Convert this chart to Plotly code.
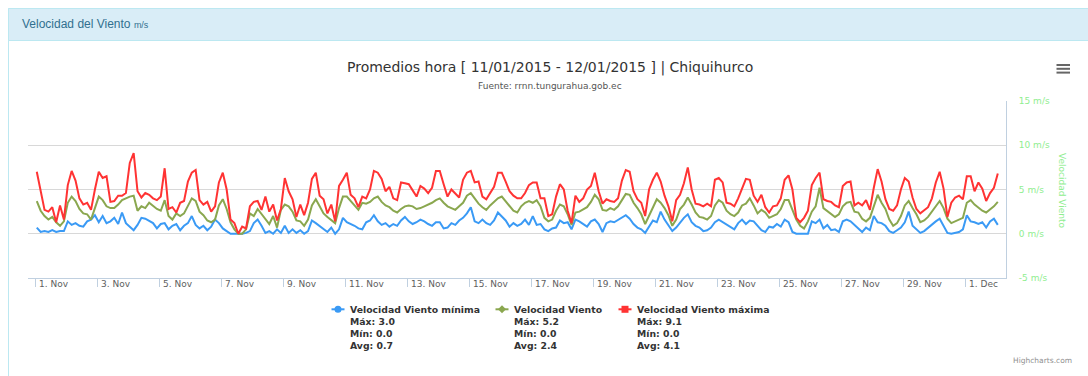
import pandas as pd
import plotly.graph_objects as go

W, H = 1088, 376

# 3-hourly wind speed (m/s), Chiquihurco station, 1 Nov - 1 Dec 2015
vel_min = [
    0.7, 0.2, 0.3, 0.2, 0.4, 0.2, 0.3, 0.3, 1.4, 1.0,
    1.2, 0.9, 0.8, 1.4, 1.6, 2.1, 1.3, 2.0, 1.2, 1.4,
    1.8, 1.1, 2.4, 1.2, 0.8, 0.4, 1.0, 1.8, 1.7, 1.4,
    1.2, 0.6, 1.1, 1.2, 0.5, 0.9, 1.1, 0.4, 0.9, 1.2,
    2.0, 1.0, 0.6, 0.9, 0.4, 0.8, 1.6, 1.2, 0.6, 0.3,
    0.0, 0.0, 0.0, 0.0, 0.1, 0.3, 1.2, 1.6, 0.9, 0.1,
    0.3, 0.0, 0.5,
    0.1, 0.9, 0.1, 0.5, 0.1, 0.4, 0.0, 0.3, 1.5, 1.2,
    0.9, 0.5, 0.2, 0.7, 0.0, 0.5, 1.8, 1.3, 1.1, 0.9,
    0.6, 0.5, 1.3, 1.5, 2.1, 1.4, 1.0, 1.2, 0.8, 1.1,
    0.9, 1.5, 1.9, 1.4, 1.1, 1.3, 1.6, 1.4, 1.1, 0.9,
    1.3, 1.3, 0.6, 0.7, 1.2, 1.0, 1.5, 1.8, 2.3, 3.0,
    1.4, 1.2, 1.6, 1.2, 1.0, 1.5, 2.4, 1.9, 1.5, 0.8,
    1.2, 0.9,
    1.1, 1.6, 1.0, 2.0, 1.0, 1.1, 0.5, 0.3, 0.6, 0.7,
    1.5, 1.2, 1.3, 0.5, 1.6, 1.4, 1.1, 0.8, 1.4, 1.6,
    1.1, 0.2, 1.2, 1.4, 1.3, 1.6, 1.8, 2.1, 1.7, 1.1,
    0.7, 0.5, 0.1, 0.8, 1.5, 1.3, 2.5, 1.6, 1.0, 0.3,
    0.7, 1.3, 1.8, 2.2, 1.3, 0.9, 0.7, 0.3, 0.4, 0.7,
    1.3, 1.6, 1.3, 1.0, 0.7, 0.5, 1.2, 1.6, 1.1, 1.5,
    1.4, 0.9,
    0.4, 0.2, 0.8, 0.7, 1.1, 0.8, 1.6, 1.3, 0.2, 0.0,
    0.0, 0.0, 0.0, 1.4, 1.2, 1.6, 0.6, 1.0, 0.4, 0.5,
    0.2, 1.4, 1.6, 1.4, 1.0, 0.5, 0.2, 0.7, 0.4, 2.0,
    1.3, 1.2, 0.9, 0.3, 0.1, 0.4, 0.7, 1.3, 2.5, 0.9,
    0.5, 0.1, 0.3, 0.7, 1.0, 1.4, 1.7, 0.9, 0.1, 0.0,
    0.1, 0.2, 0.5, 2.1, 1.4, 1.3, 1.1, 1.3, 0.7, 1.4,
    1.7, 1.0,
]

vel_media = [
    3.7, 2.6, 2.0, 1.6, 1.9, 1.3, 0.9, 1.4, 3.5, 4.2,
    3.7, 2.8, 2.3, 2.2, 1.6, 3.0, 4.2, 3.8, 3.1, 2.9,
    2.9, 3.3, 3.8, 4.0, 4.2, 4.3, 2.6, 3.1, 2.9, 3.5,
    3.1, 2.8, 2.6, 3.8, 2.0, 1.6, 2.3, 2.0, 2.3, 3.1,
    4.0, 3.7, 2.5, 2.1, 1.5, 1.3, 1.6, 3.2, 3.9, 2.8,
    1.3, 0.5, 0.0, 0.0, 0.5, 2.3, 2.0, 2.8, 2.2, 1.6,
    1.1, 2.0, 0.7,
    2.7, 3.3, 3.1, 2.5, 1.5, 1.4, 0.9, 1.6, 3.2, 3.9,
    3.1, 2.3, 1.9, 1.6, 1.2, 2.9, 4.2, 4.2, 3.7, 3.3,
    2.7, 3.5, 3.4, 3.6, 4.0, 4.2, 3.6, 3.2, 3.0, 2.6,
    2.4, 2.8, 3.1, 3.2, 3.1, 2.8, 2.9, 3.1, 3.3, 3.5,
    3.8, 4.0, 3.5, 3.1, 2.9, 2.7, 3.1, 3.5, 4.3, 4.6,
    4.0, 3.4, 3.0, 2.7, 3.2, 3.6, 4.0, 4.2, 3.7, 3.1,
    2.6, 2.4,
    3.1, 3.5, 3.7, 3.5, 3.8, 3.1, 1.8, 1.4, 1.6, 2.6,
    3.3, 3.1, 2.2, 1.0, 2.4, 2.5, 2.8, 3.0, 3.6, 4.4,
    3.9, 2.7, 2.6, 2.9, 2.7, 3.1, 3.8, 4.5, 4.4, 3.5,
    2.9, 2.2, 1.1, 2.0, 3.0, 3.9, 3.5, 2.9, 2.1, 0.9,
    1.6, 2.8, 3.3, 4.1, 3.3, 2.4, 1.9, 1.8, 1.6, 2.0,
    3.2, 3.8, 3.5, 2.6, 2.2, 2.0, 2.4, 3.2, 3.4, 4.0,
    3.2, 2.3,
    2.7, 2.4, 1.8, 2.0, 2.2, 2.8, 3.8, 3.8, 2.8, 1.6,
    0.9, 0.6, 1.4, 2.5, 3.1, 5.2, 2.9, 2.6, 2.2, 1.9,
    2.2, 3.1, 3.5, 3.6, 2.5, 2.4, 1.7, 1.4, 1.8, 3.0,
    4.4, 3.5, 2.8, 1.6, 0.9, 1.2, 2.0, 3.2, 3.7, 2.9,
    2.2, 1.3, 1.5, 1.9, 2.5, 3.1, 3.7, 2.9, 1.7, 1.2,
    1.4, 1.6, 1.8, 3.5, 3.8, 3.3, 2.9, 2.6, 2.4, 2.7,
    3.1, 3.6,
]

vel_max = [
    7.0, 4.8, 2.7, 2.5, 3.0, 1.3, 3.2, 1.6, 5.5, 7.1,
    6.0, 4.0, 3.3, 3.5, 2.7, 5.0, 7.0, 6.3, 6.5, 3.6,
    3.7, 4.3, 4.3, 4.6, 8.0, 9.1, 4.8, 4.1, 4.6, 4.4,
    4.0, 3.8, 4.2, 7.4, 2.8, 3.0, 2.4, 3.5, 3.7, 5.9,
    6.9, 7.2, 3.8, 3.3, 3.6, 2.5, 3.1, 5.8, 6.9, 5.0,
    1.6, 1.2, 0.0, 0.8, 0.6, 3.1, 3.6, 3.7, 2.7, 4.2,
    2.5, 3.3, 1.5,
    2.8, 6.3, 4.8, 3.9, 1.9, 3.3, 2.1, 3.5, 6.2, 6.9,
    4.3, 3.9, 2.3, 3.3, 1.4, 5.4, 6.1, 6.9, 4.4, 4.0,
    3.0, 4.2, 4.0, 5.0, 7.1, 6.9, 6.2, 4.8, 5.3, 4.0,
    3.8, 5.8, 5.7, 5.6, 4.9, 4.2, 5.4, 5.1, 4.6, 5.2,
    7.1, 7.1, 5.6, 4.2, 5.0, 4.6, 4.1, 6.1, 6.9, 7.1,
    5.8, 5.9, 4.2, 3.9, 4.6, 5.3, 6.9, 6.9, 5.9, 4.8,
    4.3, 4.0,
    4.0, 4.6, 5.5, 5.8, 5.8, 4.0, 4.0, 2.0, 2.2, 4.2,
    5.6, 5.0, 2.6, 1.2, 4.3, 3.6, 4.0, 5.0, 5.4, 6.9,
    4.8, 3.4, 3.9, 3.7, 3.6, 4.0, 6.0, 7.2, 7.0, 4.8,
    3.9, 3.5, 2.0, 5.0, 6.1, 6.9, 5.9, 4.3, 3.1, 1.4,
    3.8, 4.4, 5.7, 7.5, 5.0, 3.4, 3.3, 3.1, 3.4, 3.1,
    6.1, 6.3, 5.8, 3.5, 3.4, 3.1, 4.0, 5.0, 6.2, 6.1,
    4.3, 3.6,
    4.4, 3.0, 2.4, 3.1, 3.2, 4.0, 6.1, 6.6, 5.0, 1.8,
    1.3, 1.8, 2.6, 5.5, 6.3, 6.9, 3.9, 3.7, 3.6, 3.2,
    3.0, 5.4, 5.8, 5.9, 3.2, 3.5, 3.2, 3.8, 2.7, 5.2,
    7.3, 5.9, 3.9, 2.8, 2.6, 3.2, 5.0, 6.3, 5.9, 4.1,
    2.8, 2.3, 2.6, 3.0, 4.0, 5.8, 7.0, 5.1, 1.9, 3.5,
    4.1, 4.3, 3.9, 6.5, 6.5, 4.8, 5.8, 5.1, 3.7, 4.6,
    5.2, 6.8,
]

series_names = ["Velocidad Viento mínima", "Velocidad Viento", "Velocidad Viento máxima"]
series_colors = ["#3a9af5", "#8aa74f", "#ff3333"]
series_symbols = ["circle", "diamond", "square"]
stats_max = [3.0, 5.2, 9.1]
stats_min = [0.0, 0.0, 0.0]
stats_avg = [0.7, 2.4, 4.1]

x_tick_labels = ["1. Nov", "3. Nov", "5. Nov", "7. Nov", "9. Nov", "11. Nov",
                 "13. Nov", "15. Nov", "17. Nov", "19. Nov", "21. Nov", "23. Nov",
                 "25. Nov", "27. Nov", "29. Nov", "1. Dec"]
x_tick_dates = pd.date_range("2015-11-01", periods=len(x_tick_labels), freq="2D")
y_tick_values = [-5, 0, 5, 10, 15]
y_tick_labels = ["-5 m/s", "0 m/s", "5 m/s", "10 m/s", "15 m/s"]

times = pd.date_range("2015-11-01 01:00", periods=len(vel_max), freq="3h")


def px(x):
    return x / W


def py(y):
    return 1 - y / H


fig = go.Figure()
for name, vals, color in zip(series_names, [vel_min, vel_media, vel_max], series_colors):
    fig.add_trace(go.Scatter(
        x=times, y=vals, mode="lines", name=name,
        line=dict(color=color, width=2), showlegend=False,
    ))

shapes = []
annotations = []

# panel with header band
shapes.append(dict(type="rect", xref="paper", yref="paper", layer="below",
                   x0=px(8.5), x1=px(1100), y0=py(8.5), y1=py(420),
                   line=dict(color="#bce8f1", width=1), fillcolor="white"))
shapes.append(dict(type="rect", xref="paper", yref="paper", layer="below",
                   x0=px(8.5), x1=px(1100), y0=py(8.5), y1=py(40.5),
                   line=dict(color="#bce8f1", width=1), fillcolor="#d9edf7"))
annotations.append(dict(
    x=px(20), y=py(24.5), xref="paper", yref="paper", xanchor="left", yanchor="middle",
    text="Velocidad del Viento <span style='font-size:9px'>m/s</span>",
    showarrow=False, font=dict(family="Liberation Sans, Arial", size=12, color="#31708f")))

# export menu icon
for yy in (65, 68.8, 72.6):
    shapes.append(dict(type="line", xref="paper", yref="paper",
                       x0=px(1056.5), x1=px(1070), y0=py(yy), y1=py(yy),
                       line=dict(color="#666666", width=2)))

# titles
annotations.append(dict(
    x=px(550), y=py(67), xref="paper", yref="paper", xanchor="center", yanchor="middle",
    text="Promedios hora [ 11/01/2015 - 12/01/2015 ] | Chiquihurco", showarrow=False,
    font=dict(family="DejaVu Sans", size=14, color="#333333")))
annotations.append(dict(
    x=px(550), y=py(85.5), xref="paper", yref="paper", xanchor="center", yanchor="middle",
    text="Fuente: rrnn.tungurahua.gob.ec", showarrow=False,
    font=dict(family="DejaVu Sans", size=9, color="#555555")))

# x-axis ticks and labels
for d, lab in zip(x_tick_dates, x_tick_labels):
    shapes.append(dict(type="line", xref="x", yref="paper", x0=d, x1=d,
                       y0=py(278), y1=py(287), line=dict(color="#C0D0E0", width=1)))
    annotations.append(dict(
        x=d, y=py(283.5), xref="x", yref="paper", xanchor="left", yanchor="middle",
        xshift=1.5, text=lab, showarrow=False,
        font=dict(family="DejaVu Sans", size=9, color="#606060")))

# y-axis title
annotations.append(dict(
    x=px(1062), y=py(190), xref="paper", yref="paper", xanchor="center", yanchor="middle",
    text="Velocidad Viento", textangle=90, showarrow=False,
    font=dict(family="DejaVu Sans", size=9, color="#90EE90")))

# legend with series statistics
legend_x = [331.5, 495.5, 618.5]
for lx, name, color, sym, mx, mn, av in zip(legend_x, series_names, series_colors,
                                            series_symbols, stats_max, stats_min, stats_avg):
    ly = 309.3
    cx = lx + 6.5
    shapes.append(dict(type="line", xref="paper", yref="paper",
                       x0=px(lx), x1=px(lx + 13), y0=py(ly), y1=py(ly),
                       line=dict(color=color, width=2)))
    if sym == "circle":
        shapes.append(dict(type="circle", xref="paper", yref="paper",
                           x0=px(cx - 3.5), x1=px(cx + 3.5), y0=py(ly - 3.5), y1=py(ly + 3.5),
                           line=dict(width=0), fillcolor=color))
    elif sym == "square":
        shapes.append(dict(type="rect", xref="paper", yref="paper",
                           x0=px(cx - 3.5), x1=px(cx + 3.5), y0=py(ly - 3.5), y1=py(ly + 3.5),
                           line=dict(width=0), fillcolor=color))
    else:
        path = "M {a},{b} L {c},{d} L {a},{e} L {f},{d} Z".format(
            a=px(cx), b=py(ly - 4), c=px(cx + 4), d=py(ly), e=py(ly + 4), f=px(cx - 4))
        shapes.append(dict(type="path", xref="paper", yref="paper", path=path,
                           line=dict(width=0), fillcolor=color))
    tx = lx + 16
    rows = [name, f"Máx: {mx:.1f}", f"Mín: {mn:.1f}", f"Avg: {av:.1f}"]
    for i, row in enumerate(rows):
        annotations.append(dict(
            x=px(tx), y=py(ly + 12 * i), xref="paper", yref="paper",
            xanchor="left", yanchor="middle", text=f"<b>{row}</b>", showarrow=False,
            font=dict(family="DejaVu Sans", size=9.3, color="#333333")))

# credits
annotations.append(dict(
    x=px(1074), y=py(360), xref="paper", yref="paper", xanchor="right", yanchor="middle",
    text="Highcharts.com", showarrow=False,
    font=dict(family="DejaVu Sans", size=7.5, color="#909090")))

fig.update_layout(
    width=W, height=H,
    margin=dict(l=0, r=0, t=0, b=0),
    paper_bgcolor="white",
    plot_bgcolor="rgba(0,0,0,0)",
    showlegend=False,
    hovermode=False,
    xaxis=dict(
        domain=[px(28), px(1006)],
        range=["2015-10-31 18:12", "2015-12-02 07:21"],
        showgrid=False, zeroline=False, showticklabels=False, ticks="",
        showline=True, linecolor="#C0D0E0", linewidth=1, automargin=False,
    ),
    yaxis=dict(
        domain=[py(278), py(101)],
        range=[-5, 15], side="right",
        tickmode="array", tickvals=y_tick_values, ticktext=y_tick_labels,
        showgrid=True, gridcolor="#D8D8D8", gridwidth=1, zeroline=False,
        showline=True, linecolor="#C0D0E0", linewidth=1, ticks="",
        tickfont=dict(family="DejaVu Sans", size=9, color="#90EE90"),
        ticklabelstandoff=10, automargin=False,
    ),
    shapes=shapes,
    annotations=annotations,
)

fig.write_html("out.html")
